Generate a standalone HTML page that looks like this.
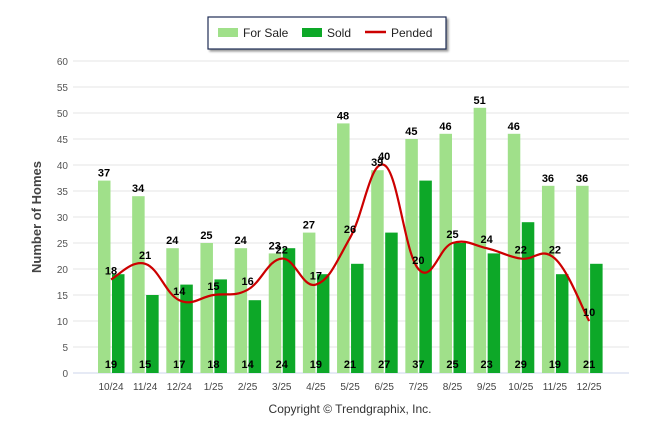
<!DOCTYPE html>
<html><head><meta charset="utf-8"><style>
body{margin:0;background:#fff;font-family:"Liberation Sans",sans-serif;}
svg text{font-family:"Liberation Sans",sans-serif;}
</style></head><body>
<svg width="646" height="434" id="c">
<g>
<rect x="208" y="17" width="238" height="32" fill="#fff" stroke="#1f2d55" stroke-width="1.2" style="filter:drop-shadow(2px 2px 1px #999)"/>
<rect x="218" y="28" width="20" height="9" fill="#a0e08a"/>
<text x="243" y="37" font-size="12" fill="#222">For Sale</text>
<rect x="302" y="28" width="20" height="9" fill="#0da828"/>
<text x="327" y="37" font-size="12" fill="#222">Sold</text>
<line x1="365" y1="32" x2="386" y2="32" stroke="#cc0000" stroke-width="2.5"/>
<text x="391" y="37" font-size="12" fill="#222">Pended</text>
</g>
<text transform="translate(41,217) rotate(-90)" text-anchor="middle" font-size="13" font-weight="bold" fill="#444">Number of Homes</text>
<text x="350" y="413" text-anchor="middle" font-size="12" fill="#333">Copyright © Trendgraphix, Inc.</text>
<g id="grid"></g><g id="bars"></g><g id="line"></g><g id="labels"></g>
</svg>
<script>
const categories=["10/24","11/24","12/24","1/25","2/25","3/25","4/25","5/25","6/25","7/25","8/25","9/25","10/25","11/25","12/25"];
const forSale=[37,34,24,25,24,23,27,48,39,45,46,51,46,36,36];
const sold=[19,15,17,18,14,24,19,21,27,37,25,23,29,19,21];
const pended=[18,21,14,15,16,22,17,26,40,20,25,24,22,22,10];
const yTicks=[0,5,10,15,20,25,30,35,40,45,50,55,60];
const NS="http://www.w3.org/2000/svg";
const y=v=>373-v*5.2;
const x=i=>111+i*34.15;
function mk(t,a,p){const e=document.createElementNS(NS,t);for(const k in a)e.setAttribute(k,a[k]);document.getElementById(p).appendChild(e);return e;}
yTicks.forEach(t=>{
 const l=mk('line',{x1:73,x2:629,y1:y(t),y2:y(t),stroke:t?'#e6e6e6':'#ccd6eb','stroke-width':1},'grid');
 
 
 const tx=mk('text',{x:68,y:y(t)+4,'text-anchor':'end','font-size':10,fill:'#555'},'grid');tx.textContent=t;
 
 
});
categories.forEach((c,i)=>{
 const tx=mk('text',{x:x(i),y:390,'text-anchor':'middle','font-size':10,fill:'#444'},'grid');tx.textContent=c;
 
 
 const b1=mk('rect',{x:x(i)-13,y:y(forSale[i]),width:12.5,height:forSale[i]*5.2,fill:'#a0e08a'},'bars');
 
 
 const b2=mk('rect',{x:x(i)+1,y:y(sold[i]),width:12.5,height:sold[i]*5.2,fill:'#0da828'},'bars');
 
 
 const l1=mk('text',{x:x(i)-7,y:y(forSale[i])-4,'text-anchor':'middle','font-size':11,'font-weight':'bold',fill:'#000'},'labels');l1.textContent=forSale[i];
 
 
 const l2=mk('text',{x:x(i),y:368,'text-anchor':'middle','font-size':11,'font-weight':'bold',fill:'#000'},'labels');l2.textContent=sold[i];
 
 
 const l3=mk('text',{x:x(i),y:y(pended[i])-5,'text-anchor':'middle','font-size':11,'font-weight':'bold',fill:'#000'},'labels');l3.textContent=pended[i];
 
 
});
const pts=pended.map((v,i)=>[x(i),y(v)]);
let d='M'+pts[0][0]+','+pts[0][1];
const s=1.5;
for(let i=1;i<pts.length;i++){
 const p0=pts[i-2]||pts[i-1],p1=pts[i-1],p2=pts[i],p3=pts[i+1]||p2;
 const c1=[p1[0]+(p2[0]-p0[0])/(2*(s+1)),p1[1]+(p2[1]-p0[1])/(2*(s+1))];
 const c2=[p2[0]-(p3[0]-p1[0])/(2*(s+1)),p2[1]-(p3[1]-p1[1])/(2*(s+1))];
 d+=` C${c1[0]},${c1[1]} ${c2[0]},${c2[1]} ${p2[0]},${p2[1]}`;
}
const ln=mk('path',{d:d,fill:'none',stroke:'#cc0000','stroke-width':2.2},'line');


</script>
</body></html>
